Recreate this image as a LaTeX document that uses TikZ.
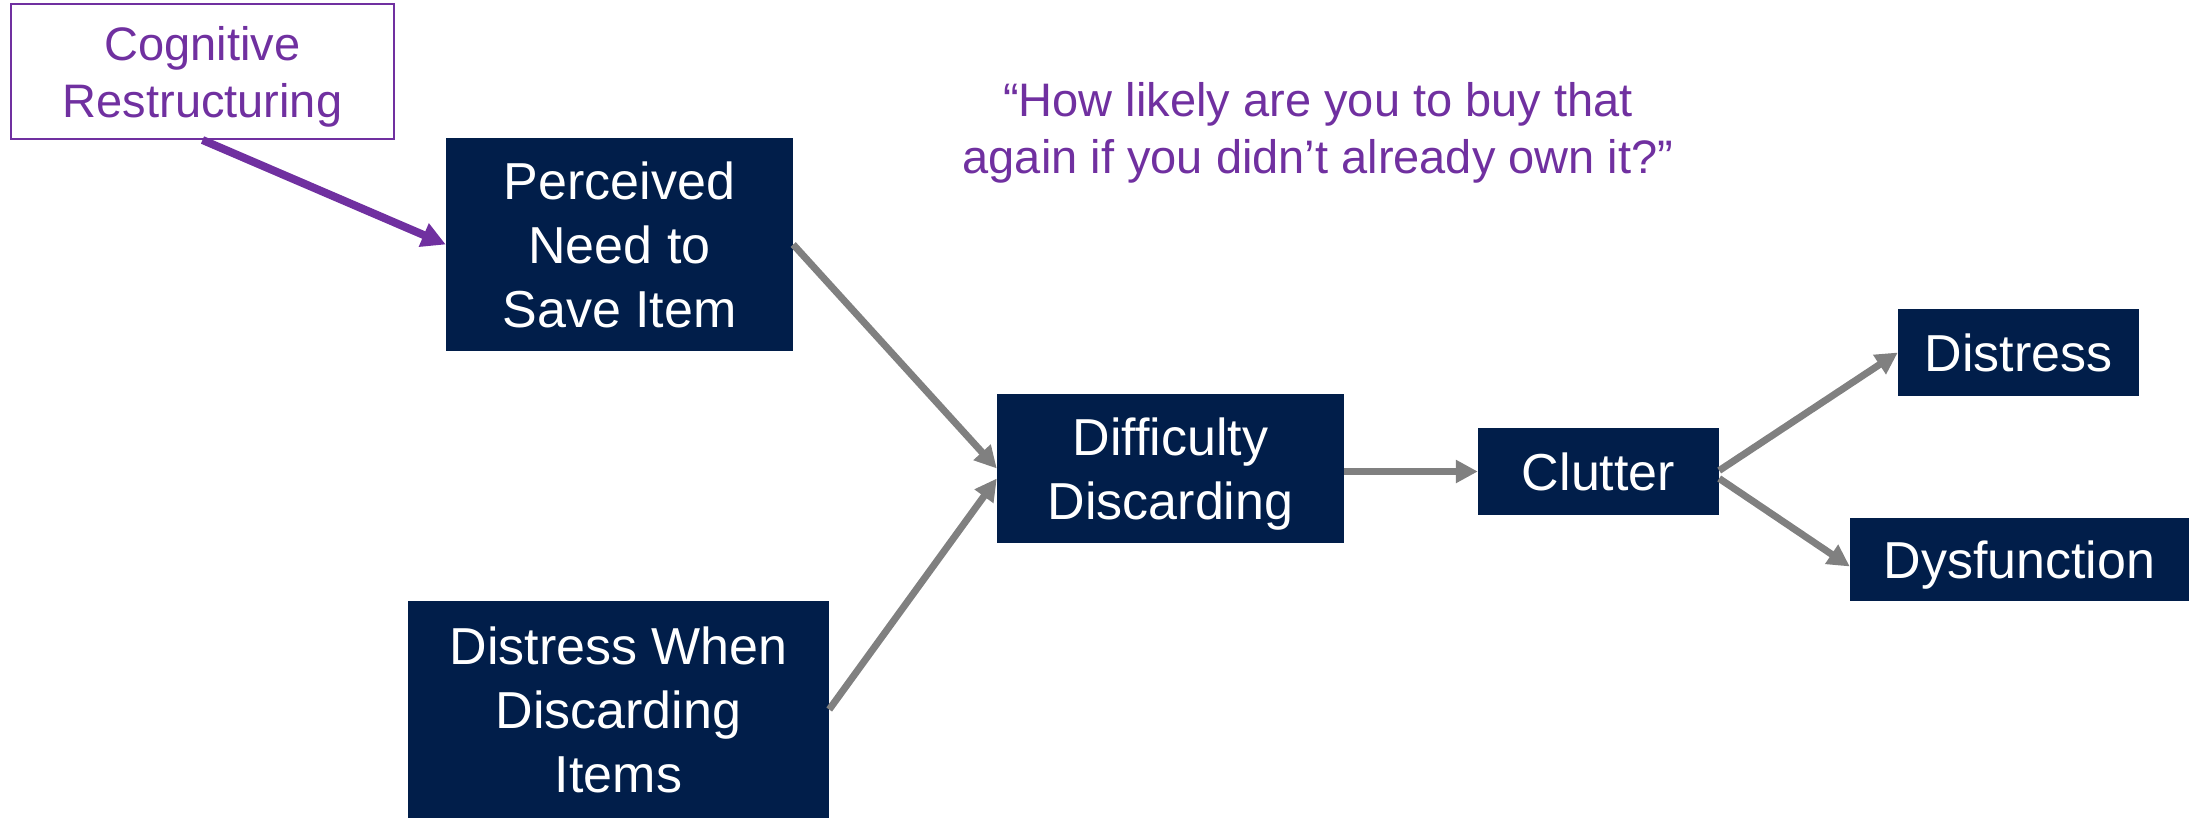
\documentclass[tikz,border=0pt]{standalone}
\usepackage{fontspec}
\setmainfont{Liberation Sans}
\usetikzlibrary{arrows.meta,calc}

\definecolor{navy}{HTML}{011E4A}
\definecolor{cpurple}{HTML}{7030A0}
\definecolor{arrowgray}{HTML}{808080}

\tikzset{
  darkbox/.style={fill=navy, text=white, inner sep=0pt, align=center,
    font=\fontsize{52}{64}\selectfont},
  purpletext/.style={text=cpurple, inner sep=0pt, align=center,
    font=\fontsize{47}{57}\selectfont},
  grayarrow/.style={draw=arrowgray, line width=7pt,
    -{Triangle[length=22pt,width=22pt]}},
  purplearrow/.style={draw=cpurple, line width=8pt,
    -{Triangle[length=24pt,width=24pt]}},
}

\begin{document}
\begin{tikzpicture}[x=1pt,y=-1pt]
  \useasboundingbox (0,0) rectangle (2200,817);
  \begin{scope}
  \clip (0,0) rectangle (2200,817);

  % intervention box and prompt
  \node[purpletext, draw=cpurple, line width=2pt, fill=white, text depth=0pt,
        minimum width=383pt, minimum height=135pt] (cog) at (202.5,71.5)
        {Cognitive\\Restructuring};
  \node[purpletext, text depth=0pt] (quote) at (1318,128)
        {“How likely are you to buy that\\again if you didn’t already own it?”};

  % model boxes
  \node[darkbox, minimum width=347pt, minimum height=213pt] (per) at (619.5,244.5)
        {Perceived\\Need to\\Save Item};
  \node[darkbox, minimum width=421pt, minimum height=217pt] (dwd) at (618.5,709.5)
        {Distress When\\Discarding\\Items};
  \node[darkbox, minimum width=347pt, minimum height=149pt, text depth=0pt] (dif) at (1170.5,468.5)
        {Difficulty\\Discarding};
  \node[darkbox, minimum width=241pt, minimum height=87pt] (clu) at (1598.5,471.5)
        {Clutter};
  \node[darkbox, minimum width=241pt, minimum height=87pt] (dis) at (2018.5,352.5)
        {Distress};
  \node[darkbox, minimum width=339pt, minimum height=83pt, text depth=0pt] (dys) at (2019.5,559.5)
        {Dysfunction};

  % connectors
  \draw[purplearrow] (cog.south) -- (per.west);
  \draw[grayarrow] (per.east) -- (dif.west);
  \draw[grayarrow] (dwd.east) -- ($(dif.west)+(0,10)$);
  \draw[grayarrow] (dif.east |- clu.west) -- (clu.west);
  \draw[grayarrow] ($(clu.east)+(0,-1)$) -- (dis.west);
  \draw[grayarrow] ($(clu.east)+(0,7)$) -- ($(dys.west)+(0,7)$);
  \end{scope}
\end{tikzpicture}
\end{document}
